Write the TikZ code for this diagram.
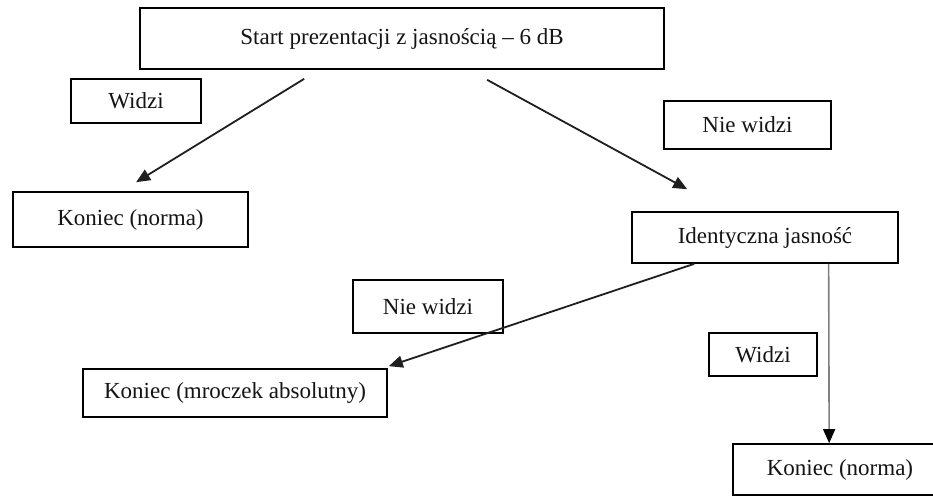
\documentclass[tikz,border=0pt]{standalone}
\usepackage{fontspec}
\setmainfont{Liberation Serif}
\usetikzlibrary{arrows.meta,calc}

\tikzset{
  box/.style={draw=black, line width=1.7pt, rectangle, inner sep=0pt,
              align=center, text=black!92,
              font=\fontsize{23}{27}\selectfont},
  link/.style={line width=1.8pt, draw=black!88,
               -{Triangle[length=14pt,width=12pt]}},
  greylink/.style={line width=1.6pt, draw=black!50,
               -{Triangle[length=14pt,width=12pt,fill=black,color=black]}}
}

\begin{document}
\begin{tikzpicture}[x=1pt,y=-1pt]
  \clip (0,0) rectangle (933,498);
  \fill[white] (0,0) rectangle (933,498);

  % boxes
  \node[box, minimum width=524pt, minimum height=61pt] (start) at (402,38.5)
       {Start prezentacji z jasnością – 6 dB};
  \node[box, minimum width=130pt, minimum height=44pt] (widziA) at (136,101) {Widzi};
  \node[box, minimum width=235pt, minimum height=55pt] (endA) at (130.5,219.5) {Koniec (norma)};
  \node[box, minimum width=167pt, minimum height=48pt] (nieA) at (747.5,125) {Nie widzi};
  \node[box, minimum width=266pt, minimum height=51pt] (ident) at (765,237.5) {Identyczna jasność};
  \node[box, minimum width=150pt, minimum height=53pt] (nieB) at (428,306.5) {Nie widzi};
  \node[box, minimum width=304pt, minimum height=48pt] (endB) at (235,393) {Koniec (mroczek absolutny)};
  \node[box, minimum width=108pt, minimum height=43pt] (widziB) at (763,354.5) {Widzi};
  \node[box, minimum width=214pt, minimum height=51pt] (endC) at (840,469.5) {Koniec (norma)};

  % connector end points
  \coordinate (a1s) at ($(start.south west)+(165,9)$);
  \coordinate (a1e) at ($(endA.north west)+(124,-9)$);
  \coordinate (a2s) at ($(start.south west)+(348,10)$);
  \coordinate (a2e) at ($(ident.north west)+(56,-22)$);
  \coordinate (a3s) at ($(ident.south west)+(63,0)$);
  \coordinate (a3e) at ($(endB.north east)+(1,-2)$);
  \coordinate (a4s) at ($(ident.south west)+(197.5,0)$);
  \coordinate (a4e) at ($(endC.north west)+(97,0)$);

  % connectors
  \draw[link] (a1s) -- (a1e);
  \draw[link] (a2s) -- (a2e);
  \draw[link] (a3s) -- (a3e);
  \draw[greylink] (a4s) -- (a4e);
\end{tikzpicture}
\end{document}
